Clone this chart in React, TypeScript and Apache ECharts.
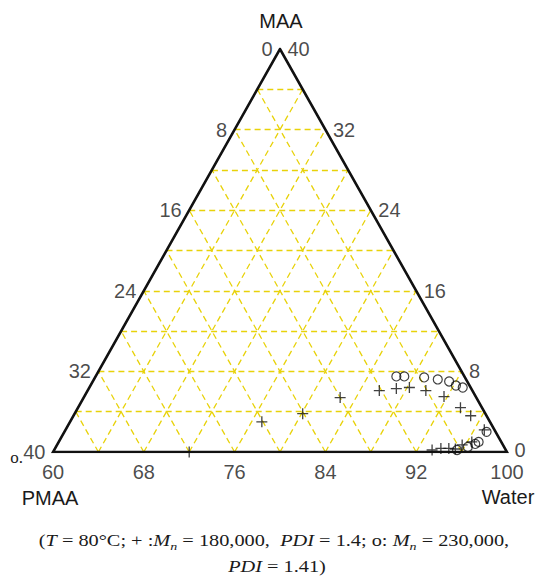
import React, { useEffect, useRef } from "react";
import * as echarts from "echarts";

// Tick labels on each side of the ternary diagram
const waterTicks = [60, 68, 76, 84, 92, 100]; // bottom edge
const pmaaTicks = [0, 8, 16, 24, 32, 40]; // left edge (top -> bottom-left)
const maaTicks = [40, 32, 24, 16, 8, 0]; // right edge (top -> bottom-right)
const gridValues = [4, 8, 12, 16, 20, 24, 28, 32, 36];

// [Water %, MAA %]   (PMAA = 100 - Water - MAA)
const plusPoints = [
  [85.7, 6.1], [87.1, 6.3], [88.2, 6.4], [89.8, 6.1], [91.7, 5.5], [93.7, 4.4], [95.0, 3.6],
  [82.6, 5.4], [80.1, 3.8], [76.9, 3.0], [72.0, 0.0],
  [93.3, 0.2], [94.0, 0.35], [94.7, 0.35], [95.3, 0.3], [95.7, 0.7], [96.4, 1.0], [96.9, 2.2],
];
const circlePoints = [
  [86.5, 7.5], [87.2, 7.5], [89.0, 7.4], [90.3, 7.2], [91.4, 7.0], [92.2, 6.6], [92.9, 6.4],
  [95.5, 0.2], [96.3, 0.5], [96.8, 0.8], [97.0, 1.0], [97.2, 2.0],
];

// ternary (water, maa) -> cartesian fraction in the triangle's bounding box
const toXY = (w: number, m: number) => [(w - 60) / 40 + m / 80, m / 40];

const FONT = "Liberation Sans";
const SERIF = "Liberation Serif";

function labelSeries(data: any[], position: string, distance: number) {
  return {
    type: "scatter",
    symbolSize: 1,
    itemStyle: { color: "rgba(0,0,0,0)" },
    silent: true,
    z: 5,
    data,
    label: {
      show: true,
      position,
      distance,
      formatter: "{b}",
      fontSize: 20,
      lineHeight: 16,
      fontFamily: FONT,
      color: "#1a1a1a",
    },
  };
}

export default function App() {
  const ref = useRef<HTMLDivElement>(null);
  useEffect(() => {
    if (!ref.current) return;
    const chart = echarts.init(ref.current, null, { renderer: "svg" });

    const gridSegments: { coords: number[][] }[] = [];
    gridValues.forEach((v) => {
      gridSegments.push({ coords: [toXY(60, v), toXY(100 - v, v)] });
      gridSegments.push({ coords: [toXY(60 + v, 0), toXY(60 + v, 40 - v)] });
      gridSegments.push({ coords: [toXY(100 - v, 0), toXY(60, 40 - v)] });
    });

    const triangle = [toXY(60, 0), toXY(100, 0), toXY(60, 40), toXY(60, 0), toXY(100, 0)];

    const rich = {
      i: { fontStyle: "italic", fontFamily: SERIF, fontSize: 16, lineHeight: 22, fill: "#1a1a1a" },
      s: { fontStyle: "italic", fontFamily: SERIF, fontSize: 11, lineHeight: 12, verticalAlign: "bottom", fill: "#1a1a1a" },
    };

    const captionStyle = {
      rich,
      fontSize: 16,
      lineHeight: 22,
      fontFamily: SERIF,
      fill: "#1a1a1a",
      align: "center",
      verticalAlign: "middle",
    };

    const option: any = {
      animation: false,
      backgroundColor: "#ffffff",
      grid: { left: 53, top: 49, width: 454, height: 403 },
      xAxis: { type: "value", min: 0, max: 1, show: false },
      yAxis: { type: "value", min: 0, max: 1, show: false },
      series: [
        {
          type: "lines",
          coordinateSystem: "cartesian2d",
          silent: true,
          z: 1,
          data: gridSegments,
          lineStyle: { color: "#E8D20A", width: 1.3, type: [6, 4], opacity: 1 },
        },
        {
          type: "line",
          data: triangle,
          symbol: "none",
          silent: true,
          z: 3,
          lineStyle: { color: "#111", width: 2.6, join: "miter", cap: "butt" },
        },
        labelSeries(waterTicks.map((w) => ({ name: String(w), value: toXY(w, 0) })), "bottom", 11),
        labelSeries(pmaaTicks.map((p) => ({ name: String(p), value: toXY(60, 40 - p) })), "left", 7),
        labelSeries(
          maaTicks.map((m) => ({
            name: String(m),
            value: toXY(100 - m, m),
            label: m === 0 ? { offset: [0, -2] } : undefined,
          })),
          "right",
          7
        ),
        {
          type: "scatter",
          z: 4,
          silent: true,
          symbol: "path://M0,5L10,5M5,0L5,10",
          symbolSize: 11,
          itemStyle: { color: "rgba(0,0,0,0)", borderColor: "#111", borderWidth: 1.3 },
          data: plusPoints.map(([w, m]) => toXY(w, m)),
        },
        {
          type: "scatter",
          z: 4,
          silent: true,
          symbol: "circle",
          symbolSize: 9,
          itemStyle: { color: "rgba(255,255,255,0)", borderColor: "#111", borderWidth: 1.2 },
          data: circlePoints.map(([w, m]) => toXY(w, m)),
        },
      ],
      graphic: [
        { type: "text", x: 281, y: 21, style: { text: "MAA", fontSize: 20, fontFamily: FONT, fill: "#1a1a1a", align: "center", verticalAlign: "middle" } },
        { type: "text", x: 50, y: 498, style: { text: "PMAA", fontSize: 20, fontFamily: FONT, fill: "#1a1a1a", align: "center", verticalAlign: "middle" } },
        { type: "text", x: 508, y: 497, style: { text: "Water", fontSize: 20, fontFamily: FONT, fill: "#1a1a1a", align: "center", verticalAlign: "middle" } },
        { type: "text", x: 23, y: 457, style: { text: "o.", fontSize: 17, fontFamily: SERIF, fill: "#1a1a1a", align: "right", verticalAlign: "middle" } },
        {
          type: "text",
          x: 274,
          y: 541,
          scaleX: 1.27,
          style: {
            ...captionStyle,
            text: "({i|T} = 80°C; + :{i|M}{s|n} = 180,000,  {i|PDI} = 1.4; o: {i|M}{s|n} = 230,000,",
          },
        },
        {
          type: "text",
          x: 277,
          y: 567,
          scaleX: 1.27,
          style: { ...captionStyle, text: "{i|PDI} = 1.41)" },
        },
      ],
    };
    chart.setOption(option);
    return () => chart.dispose();
  }, []);
  return (
    <div
      ref={ref}
      style={{ position: "absolute", left: 0, top: 0, width: 537, height: 577 }}
    />
  );
}
